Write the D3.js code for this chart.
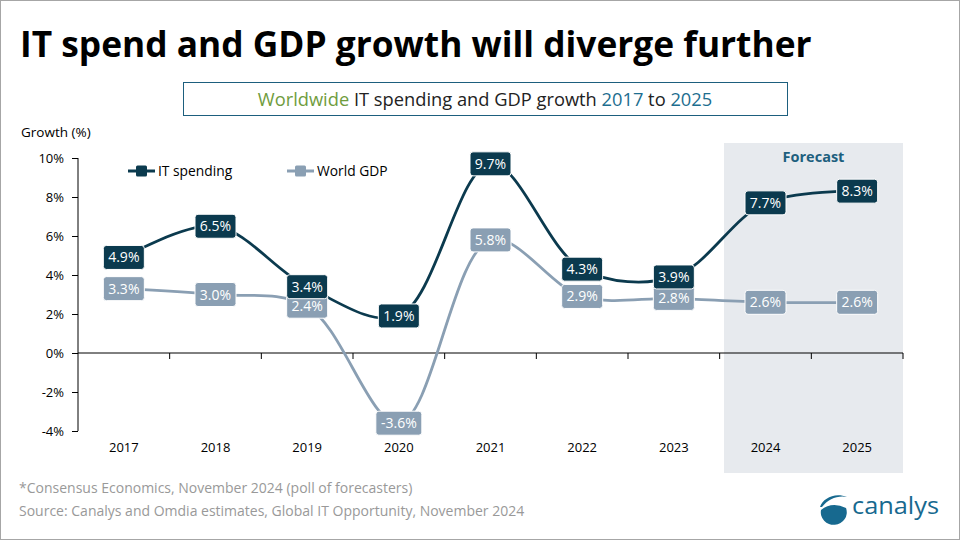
<!DOCTYPE html>
<html><head><meta charset="utf-8">
<script src="https://cdn.jsdelivr.net/npm/d3@7"></script>
<style>body{margin:0;background:#fff}svg{display:block}text{font-family:"Open Sans",sans-serif}</style>
</head><body><svg id="c" width="960" height="540"></svg>
<script>
const years = ["2017","2018","2019","2020","2021","2022","2023","2024","2025"];
const itSpending = [4.9,6.5,3.4,1.9,9.7,4.3,3.9,7.7,8.3];
const worldGDP = [3.3,3.0,2.4,-3.6,5.8,2.9,2.8,2.6,2.6];
const forecastYears = ["2024","2025"];
const yTicks = [-4,-2,0,2,4,6,8,10];

const svg = d3.select("#c");
svg.append("rect").attr("x",0.5).attr("y",0.5).attr("width",959).attr("height",539).attr("fill","#fff").attr("stroke","#a6a6a6");

const title = svg.append("text").attr("x",20).attr("y",57).attr("font-weight",700).attr("font-size",34).attr("fill","#000")
  .text("IT spend and GDP growth will diverge further");
const tw = title.node().getComputedTextLength();
title.attr("font-size",34*792/tw);

svg.append("rect").attr("x",183.5).attr("y",82.5).attr("width",604).attr("height",33).attr("fill","#fff").attr("stroke","#1d5f7e").attr("stroke-width",1);
const st = svg.append("text").attr("x",485).attr("y",105.5).attr("text-anchor","middle").attr("font-size",18.3).attr("fill","#222");
st.append("tspan").attr("fill","#6f9c3d").text("Worldwide");
st.append("tspan").text(" IT spending and GDP growth ");
st.append("tspan").attr("fill","#1d6e8f").text("2017");
st.append("tspan").text(" to ");
st.append("tspan").attr("fill","#1d6e8f").text("2025");

svg.append("text").attr("x",21).attr("y",137).attr("font-size",13.5).attr("fill","#000").text("Growth (%)");

const x = d3.scaleBand().domain(years).range([78,903]);
const y = d3.scaleLinear().domain([-4,10]).range([431,158]);

// forecast shading
svg.append("rect").attr("x",724).attr("y",143).attr("width",903-724).attr("height",473-143).attr("fill","#e7eaee");
svg.append("text").attr("x",(724+903)/2).attr("y",162).attr("text-anchor","middle").attr("font-weight",700).attr("font-size",14.5).attr("fill","#1d5f7e").text("Forecast");

// y axis
const yAxis = d3.axisLeft(y).tickValues(yTicks).tickSize(6).tickPadding(8).tickFormat(d=>d+"%");
const gy = svg.append("g").attr("transform","translate(78,0)").call(yAxis);
gy.selectAll("path,line").attr("stroke","#000");
gy.selectAll("text").attr("font-size",13).attr("fill","#000").attr("font-family","Open Sans");
gy.select(".domain").attr("d","M0,158V431");

// x axis at 0
const gx = svg.append("g").attr("transform",`translate(0,${y(0)})`);
gx.append("line").attr("x1",78).attr("x2",903).attr("stroke","#000");
years.forEach((yr,i)=>{ if(i>0) gx.append("line").attr("x1",x(yr)).attr("x2",x(yr)).attr("y1",0).attr("y2",6).attr("stroke","#000"); });
gx.append("line").attr("x1",903).attr("x2",903).attr("y1",0).attr("y2",6).attr("stroke","#000");
svg.append("g").selectAll("text").data(years).join("text")
  .attr("x",d=>x(d)+x.bandwidth()/2).attr("y",452).attr("text-anchor","middle").attr("font-size",13).attr("fill","#000").text(d=>d);

const line = d3.line().x((d,i)=>x(years[i])+x.bandwidth()/2).y(d=>y(d)).curve(d3.curveCatmullRom.alpha(0.5));
const series = [
  {name:"IT spending", values:itSpending, color:"#0b3a4e", lx:128},
  {name:"World GDP", values:worldGDP, color:"#8a9fb3", lx:287}
];
series.slice().reverse().forEach(s=>{
  svg.append("path").attr("d",line(s.values)).attr("fill","none").attr("stroke",s.color).attr("stroke-width",2.8);
});
series.slice().reverse().forEach(s=>{
  const g = svg.append("g");
  s.values.forEach((v,i)=>{
    const cx = x(years[i])+x.bandwidth()/2, cy = y(v);
    const label = v.toFixed(1)+"%";
    const w = label.length>4 ? 46 : 41;
    g.append("rect").attr("x",cx-w/2).attr("y",cy-12).attr("width",w).attr("height",24).attr("rx",3)
      .attr("fill",s.color).attr("stroke","#fff").attr("stroke-width",1);
    g.append("text").attr("x",cx).attr("y",cy+5).attr("text-anchor","middle").attr("font-size",14).attr("fill","#fff").text(label);
  });
});
// legend
series.forEach(s=>{
  const g = svg.append("g");
  g.append("line").attr("x1",s.lx).attr("x2",s.lx+27).attr("y1",171).attr("y2",171).attr("stroke",s.color).attr("stroke-width",3);
  g.append("rect").attr("x",s.lx+8).attr("y",165.5).attr("width",11).attr("height",11).attr("rx",1.5).attr("fill",s.color);
  g.append("text").attr("x",s.lx+30).attr("y",176).attr("font-size",13.8).attr("fill","#000").text(s.name);
});

// footnotes
svg.append("text").attr("x",19).attr("y",493).attr("font-size",14).attr("fill","#999").text("*Consensus Economics, November 2024 (poll of forecasters)");
svg.append("text").attr("x",19).attr("y",516).attr("font-size",14).attr("fill","#999").text("Source: Canalys and Omdia estimates, Global IT Opportunity, November 2024");

// logo
const lg = svg.append("g").attr("fill","#17698f");
lg.append("path").attr("d","M821,510 Q832,501 846,508 A13,12.5 0 1 1 821,510 Z");
lg.append("path").attr("d","M820,507 C823,498 835,492 847,497 C838,495 828,499 822,507 Z");
svg.append("text").attr("x",852).attr("y",514).attr("font-size",24).attr("textLength",87).attr("lengthAdjust","spacingAndGlyphs").attr("fill","#17698f").text("canalys");
</script></body></html>
